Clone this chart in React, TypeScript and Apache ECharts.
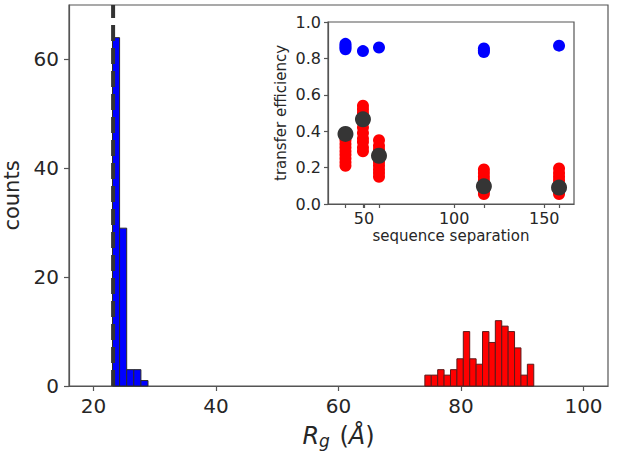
import React, { useEffect, useRef } from "react";
import * as echarts from "echarts";

// ---- main histogram data ----
const blueBinStart = 23.1;
const blueBinWidth = 1.16;
const blueCounts = [64, 29, 3, 3, 1];
const redBinStart = 74.1;
const redBinWidth = 1.046;
const redCounts = [2, 2, 3, 2, 3, 5, 10, 5, 4, 10, 8, 12, 11, 10, 7, 2, 4];
const dashedX = 23.2;
const mainXTicks = [20, 40, 60, 80, 100];
const mainYTicks = [0, 20, 40, 60];

// ---- inset data ----
const sepPositions = [39.7, 49.4, 58.3, 116.5, 158.2];
const blueTE = [
  [0.85, 0.86, 0.87, 0.88],
  [0.84],
  [0.86],
  [0.835, 0.845, 0.855],
  [0.87],
];
const redTE = [
  [0.21, 0.23, 0.25, 0.27, 0.29, 0.31, 0.33, 0.35, 0.37],
  [0.29, 0.31, 0.34, 0.36, 0.39, 0.42, 0.45, 0.48, 0.5, 0.52, 0.54],
  [0.15, 0.17, 0.19, 0.21, 0.23, 0.25, 0.28, 0.3, 0.32, 0.35],
  [0.055, 0.07, 0.09, 0.11, 0.13, 0.15, 0.17, 0.19],
  [0.055, 0.07, 0.09, 0.11, 0.13, 0.15, 0.17, 0.195],
];
const meanTE = [0.385, 0.465, 0.265, 0.097, 0.09];
const insetXLabels = [50, 100, 150];
const insetXTicks = [39.7, 49.4, 50, 58.3, 100, 116.5, 150, 158.2];

const FONT = "DejaVu Sans";
const TXT = "#262626";
const SPINE = "#555555";

function binsToData(start: number, width: number, counts: number[]) {
  return counts.map((c, i) => [start + i * width, start + (i + 1) * width, c]);
}

function histSeries(data: number[][], fill: string, stroke: string) {
  return {
    type: "custom",
    xAxisIndex: 0,
    yAxisIndex: 0,
    data,
    encode: { x: [0, 1], y: 2 },
    renderItem: (params: any, api: any) => {
      const p0 = api.coord([api.value(0), 0]);
      const p1 = api.coord([api.value(1), api.value(2)]);
      return {
        type: "rect",
        shape: { x: p0[0], y: p1[1], width: p1[0] - p0[0], height: p0[1] - p1[1] },
        style: { fill, stroke, lineWidth: 1 },
      };
    },
  };
}

function flatten(groups: number[][]) {
  const out: number[][] = [];
  groups.forEach((g, i) => g.forEach((v) => out.push([sepPositions[i], v])));
  return out;
}

export default function App() {
  const ref = useRef<HTMLDivElement>(null);
  useEffect(() => {
    if (!ref.current) return;
    const chart = echarts.init(ref.current, null, { renderer: "svg" });
    const option: any = {
      animation: false,
      backgroundColor: "#ffffff",
      textStyle: { fontFamily: FONT, color: TXT },
      grid: [
        {
          left: 69,
          top: 5,
          right: 9,
          bottom: 76,
          show: true,
          borderColor: SPINE,
          borderWidth: 1.2,
          backgroundColor: "#ffffff",
          containLabel: false,
          outerBoundsMode: "none",
        },
        {
          left: 328,
          top: 22,
          width: 246,
          height: 182,
          show: true,
          borderColor: SPINE,
          borderWidth: 1.2,
          backgroundColor: "#ffffff",
          containLabel: false,
          outerBoundsMode: "none",
          z: 5,
        },
      ],
      xAxis: [
        {
          type: "value",
          gridIndex: 0,
          min: 16,
          max: 104,
          axisLine: { show: true, lineStyle: { color: SPINE, width: 1.2 } },
          axisTick: { show: true, length: 5, lineStyle: { color: SPINE, width: 1.2 }, customValues: mainXTicks },
          axisLabel: { show: true, fontSize: 20, color: TXT, fontFamily: FONT, margin: 10, customValues: mainXTicks },
          splitLine: { show: false },
          name: "{i|R}{s|g}{n| (}{i|Å}{n|)}",
          nameLocation: "middle",
          nameGap: 36,
          nameTextStyle: {
            fontFamily: FONT,
            color: TXT,
            rich: {
              i: { fontSize: 24, fontStyle: "italic", fontFamily: FONT, color: TXT },
              s: { fontSize: 17, fontStyle: "italic", fontFamily: FONT, color: TXT, padding: [10, 2, 0, 0] },
              n: { fontSize: 24, fontFamily: FONT, color: TXT },
            },
          },
        },
        {
          type: "value",
          gridIndex: 1,
          min: 30,
          max: 166.5,
          axisLine: { show: true, lineStyle: { color: SPINE, width: 1.2 } },
          axisTick: { show: true, length: 4, lineStyle: { color: SPINE, width: 1.2 }, customValues: insetXTicks },
          axisLabel: { show: true, fontSize: 16, color: TXT, fontFamily: FONT, margin: 6, customValues: insetXLabels },
          splitLine: { show: false },
          name: "sequence separation",
          nameLocation: "middle",
          nameGap: 24,
          nameTextStyle: { fontSize: 15, fontFamily: FONT, color: TXT },
          z: 6,
        },
      ],
      yAxis: [
        {
          type: "value",
          gridIndex: 0,
          min: 0,
          max: 70,
          axisLine: { show: true, lineStyle: { color: SPINE, width: 1.2 } },
          axisTick: { show: true, length: 5, lineStyle: { color: SPINE, width: 1.2 }, customValues: mainYTicks },
          axisLabel: { show: true, fontSize: 20, color: TXT, fontFamily: FONT, margin: 10, customValues: mainYTicks },
          splitLine: { show: false },
          name: "counts",
          nameLocation: "middle",
          nameGap: 40,
          nameTextStyle: { fontSize: 21, fontFamily: FONT, color: TXT },
        },
        {
          type: "value",
          gridIndex: 1,
          min: 0,
          max: 1,
          interval: 0.2,
          axisLine: { show: true, lineStyle: { color: SPINE, width: 1.2 } },
          axisTick: { show: true, length: 4, lineStyle: { color: SPINE, width: 1.2 } },
          axisLabel: {
            show: true,
            fontSize: 16,
            color: TXT,
            fontFamily: FONT,
            margin: 7,
            formatter: (v: number) => v.toFixed(1),
          },
          splitLine: { show: false },
          name: "transfer efficiency",
          nameLocation: "middle",
          nameGap: 40,
          nameTextStyle: { fontSize: 15, fontFamily: FONT, color: TXT },
          z: 6,
        },
      ],
      series: [
        histSeries(binsToData(blueBinStart, blueBinWidth, blueCounts), "#0000ff", "#2a2a2a"),
        histSeries(binsToData(redBinStart, redBinWidth, redCounts), "#ff0000", "#5c1a1a"),
        {
          type: "line",
          xAxisIndex: 0,
          yAxisIndex: 0,
          data: [
            [dashedX, 0],
            [dashedX, 70],
          ],
          symbol: "none",
          lineStyle: { color: "#333333", width: 4, type: [16, 7] },
          z: 4,
        },
        {
          type: "scatter",
          xAxisIndex: 1,
          yAxisIndex: 1,
          data: flatten(blueTE),
          symbolSize: 12,
          itemStyle: { color: "#0000ff", opacity: 1 },
          z: 6,
        },
        {
          type: "scatter",
          xAxisIndex: 1,
          yAxisIndex: 1,
          data: flatten(redTE),
          symbolSize: 12,
          itemStyle: { color: "#ff0000", opacity: 1 },
          z: 6,
        },
        {
          type: "scatter",
          xAxisIndex: 1,
          yAxisIndex: 1,
          data: meanTE.map((v, i) => [sepPositions[i], v]),
          symbolSize: 16,
          itemStyle: { color: "#353535", opacity: 1 },
          z: 7,
        },
      ],
    };
    chart.setOption(option);
    return () => chart.dispose();
  }, []);
  return (
    <div
      ref={ref}
      style={{ position: "fixed", left: 0, top: 0, width: 617, height: 462 }}
    />
  );
}
